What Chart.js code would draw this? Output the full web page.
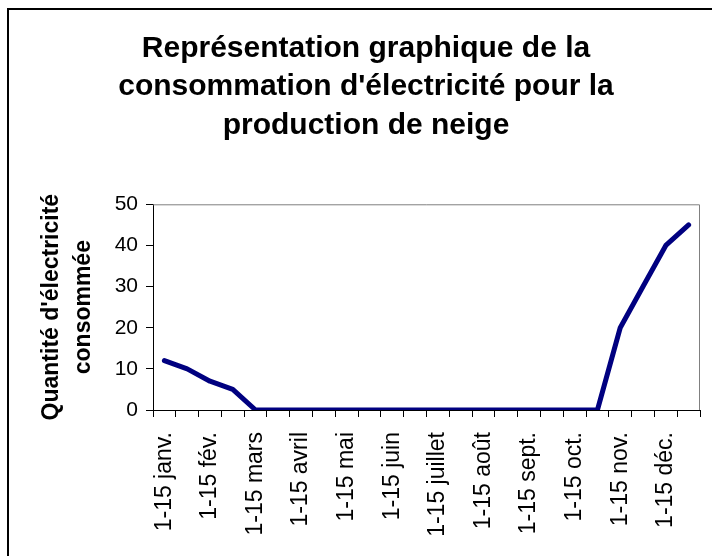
<!DOCTYPE html>
<html>
<head>
<meta charset="utf-8">
<script src="https://cdn.jsdelivr.net/npm/chart.js@4/dist/chart.umd.min.js"></script>
<style>
  html, body { margin: 0; padding: 0; background: #fff; }
  #wrap { width: 712px; height: 556px; }
</style>
</head>
<body>
<div id="wrap"><canvas id="chart" width="712" height="556"></canvas></div>
<script>
const periodes = ['1-15 janv.', '16-31 janv.', '1-15 fév.', '16-28 fév.', '1-15 mars', '16-31 mars',
    '1-15 avril', '16-30 avril', '1-15 mai', '16-31 mai', '1-15 juin', '16-30 juin',
    '1-15 juillet', '16-31 juillet', '1-15 août', '16-31 août', '1-15 sept.', '16-30 sept.',
    '1-15 oct.', '16-31 oct.', '1-15 nov.', '16-30 nov.', '1-15 déc.', '16-31 déc.']
const consommation = [12, 10, 7, 5, 0, 0, 0, 0, 0, 0, 0, 0, 0, 0, 0, 0, 0, 0, 0, 0, 20, 30, 40, 45]
const yTicks = [0, 10, 20, 30, 40, 50]

const ctx = document.getElementById('chart').getContext('2d')

Chart.defaults.font.family = "'Liberation Sans', Arial, sans-serif"
Chart.defaults.color = '#000'

// cadre noir autour du graphique + bordure grise de la zone de tracé
const cadre = {
    id: 'cadre',
    beforeDraw(chart) {
        const c = chart.ctx
        c.save()
        c.fillStyle = '#fff'
        c.fillRect(0, 0, chart.width, chart.height)
        c.strokeStyle = '#000'
        c.lineWidth = 2
        c.beginPath()
        c.moveTo(8, chart.height + 2)
        c.lineTo(8, 9)
        c.lineTo(chart.width + 2, 9)
        c.stroke()
        c.restore()
    },
    beforeDatasetsDraw(chart) {
        const a = chart.chartArea
        const c = chart.ctx
        c.save()
        c.strokeStyle = '#808080'
        c.lineWidth = 1
        c.beginPath()
        c.moveTo(a.left, a.top + 0.5)
        c.lineTo(a.right - 0.5, a.top + 0.5)
        c.lineTo(a.right - 0.5, a.bottom)
        c.stroke()
        c.restore()
    }
}

const chart = new Chart(ctx, {
    type: 'line',
    data: {
        labels: periodes,
        datasets: [{
            label: 'Consommation',
            data: consommation,
            borderColor: '#000080',
            backgroundColor: '#000080',
            borderWidth: 5,
            pointRadius: 0,
            tension: 0,
            borderCapStyle: 'round',
            borderJoinStyle: 'round',
        }]
    },
    options: {
        responsive: false,
        animation: false,
        layout: { padding: { left: 32, right: 12, top: 0, bottom: 0 } },
        plugins: {
            legend: { display: false },
            tooltip: { enabled: false },
            title: {
                display: true,
                text: ['Représentation graphique de la', "consommation d'électricité pour la", 'production de neige'],
                color: '#000',
                font: { size: 30, weight: 'bold', lineHeight: 1.27 },
                padding: { top: 30, bottom: 60 },
            }
        },
        scales: {
            x: {
                offset: true,
                grid: { offset: true, drawOnChartArea: false, tickLength: 7, color: '#000', tickColor: '#000' },
                border: { color: '#000', width: 1 },
                ticks: {
                    autoSkip: false,
                    minRotation: 90,
                    maxRotation: 90,
                    padding: 15,
                    font: { size: 23 },
                    callback: function (v, i) { return i % 2 === 0 ? this.getLabelForValue(v) : '' }
                },
                afterFit(scale) {
                    scale.height = 146
                    scale.paddingLeft = 0
                    scale.paddingRight = 0
                }
            },
            y: {
                min: 0,
                max: 50,
                afterBuildTicks(scale) { scale.ticks = yTicks.map(v => ({ value: v })) },
                grid: { drawOnChartArea: false, tickLength: 7, color: '#000', tickColor: '#000' },
                border: { color: '#000', width: 1 },
                ticks: { padding: 8, font: { size: 21 } },
                title: {
                    display: true,
                    text: ["Quantité d'électricité", 'consommée'],
                    font: { size: 23, weight: 'bold', lineHeight: 1.39 },
                    padding: { top: 4, bottom: 0 },
                },
                afterFit(scale) { scale.width = 121 }
            }
        }
    },
    plugins: [cadre]
})
</script>
</body>
</html>
